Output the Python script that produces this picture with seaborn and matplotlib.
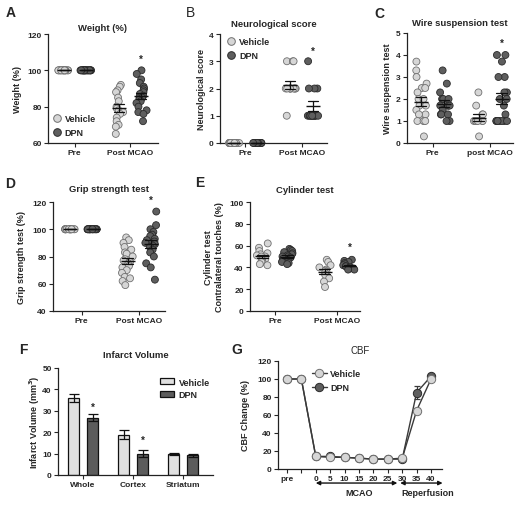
import numpy as np
import pandas as pd
import matplotlib
matplotlib.use('Agg')
import matplotlib.pyplot as plt
import matplotlib.transforms as mtransforms
import seaborn as sns
from matplotlib.lines import Line2D
from matplotlib.patches import Patch

sns.set_style('ticks')
plt.rcParams['font.family'] = ['Liberation Sans', 'DejaVu Sans']
plt.rcParams['font.weight'] = 'bold'
plt.rcParams['axes.labelweight'] = 'bold'
plt.rcParams['axes.titleweight'] = 'bold'
plt.rcParams['axes.linewidth'] = 0.9
plt.rcParams['axes.edgecolor'] = '#222222'
plt.rcParams['xtick.major.size'] = 3
plt.rcParams['ytick.major.size'] = 3
plt.rcParams['xtick.major.width'] = 0.8
plt.rcParams['ytick.major.width'] = 0.8
plt.rcParams['xtick.major.pad'] = 1.5
plt.rcParams['ytick.major.pad'] = 1.5
plt.rcParams['xtick.labelsize'] = 6
plt.rcParams['ytick.labelsize'] = 6
plt.rcParams['axes.labelsize'] = 6.5
plt.rcParams['axes.titlesize'] = 6.8

# ---------------- data ----------------
groups = ['Vehicle', 'DPN']

times_A = ['Pre', 'Post MCAO']
weight_veh_pre = [100] * 16
weight_dpn_pre = [100] * 20
weight_veh_post = [92, 91, 89, 88, 85, 83, 80, 79, 78, 77, 76, 74, 72, 70, 69, 65]
weight_dpn_post = [100, 98, 95, 93, 91, 90, 89, 88, 87, 86, 85, 85, 84, 83, 82, 80, 78, 77, 76, 72]

times_B = ['Pre', 'Post MCAO']
neuro_veh_pre = [0] * 14
neuro_dpn_pre = [0] * 14
neuro_veh_post = [3, 3, 3, 2, 2, 2, 2, 2, 2, 2, 2, 2, 2, 1]
neuro_dpn_post = [3, 2, 2, 2, 1, 1, 1, 1, 1, 1, 1, 1, 1, 1]

times_C = ['Pre', 'post MCAO']
wire_veh_pre = [3.7, 3.3, 3.0, 2.7, 2.5, 2.5, 2.3, 2.0, 2.0, 1.7, 1.7, 1.5, 1.3, 1.3, 1.0, 1.0, 1.0, 1.0, 0.3]
wire_dpn_pre = [3.3, 2.7, 2.3, 2.0, 2.0, 2.0, 1.7, 1.7, 1.7, 1.7, 1.5, 1.3, 1.3, 1.3, 1.0, 1.0]
wire_veh_post = [2.3, 1.7, 1.3, 1.3, 1.0, 1.0, 1.0, 1.0, 1.0, 1.0, 1.0, 0.3]
wire_dpn_post = [4.0, 4.0, 3.7, 3.0, 3.0, 2.3, 2.3, 2.0, 2.0, 1.7, 1.3, 1.0, 1.0, 1.0, 1.0, 1.0, 1.0, 1.0]

times_D = ['Pre', 'Post MCAO']
grip_veh_pre = [100] * 18
grip_dpn_pre = [100] * 18
grip_veh_post = [94, 92, 90, 87, 85, 83, 82, 80, 78, 77, 76, 75, 73, 72, 70, 68, 65, 64, 62, 59]
grip_dpn_post = [113, 103, 100, 98, 96, 95, 93, 92, 91, 90, 89, 88, 87, 85, 83, 80, 75, 72, 63]

times_E = ['Pre', 'Post MCAO']
cyl_veh_pre = [62, 58, 55, 53, 52, 51, 50, 50, 48, 47, 45, 45, 43, 42]
cyl_dpn_pre = [57, 56, 55, 54, 53, 52, 51, 50, 50, 49, 48, 47, 46, 45, 44, 43]
cyl_veh_post = [47, 45, 42, 40, 38, 37, 36, 35, 33, 30, 27, 22]
cyl_dpn_post = [47, 46, 45, 44, 43, 42, 41, 41, 40, 40, 39, 39, 38, 38]

regions_F = ['Whole', 'Cortex', 'Striatum']
infarct_veh = [36.0, 18.8, 10.0]
infarct_veh_sem = [1.8, 2.0, 0.5]
infarct_dpn = [26.8, 10.0, 9.2]
infarct_dpn_sem = [1.6, 1.8, 0.8]

cbf_times = [-10, -5, 0, 5, 10, 15, 20, 25, 30, 35, 40]
cbf_ticklabels = ['pre', '', '0', '5', '10', '15', '20', '25', '30', '35', '40']
cbf_veh = [100, 100, 14, 13, 13, 12, 11, 11, 12, 65, 100]
cbf_veh_sem = [0.5, 0.5, 1, 1, 1, 1, 1, 1, 1, 3, 2]
cbf_dpn = [100, 100, 14, 14, 13, 12, 11, 11, 11, 85, 103]
cbf_dpn_sem = [0.5, 0.5, 1, 1, 1, 1, 1, 1, 1, 7, 3]

# ---------------- style ----------------
VEH_FILL = '#d6d6d6'
VEH_EDGE = '#707070'
DPN_FILL = '#5e5e5e'
DPN_EDGE = '#2a2a2a'
pal = {'Vehicle': VEH_FILL, 'DPN': DPN_FILL}

W, H = 528, 510
fig = plt.figure(figsize=(W / 100, H / 100), dpi=100)
np.random.seed(3)


def add_ax(l, r, t, b):
    ax = fig.add_axes([l / W, 1 - b / H, (r - l) / W, (b - t) / H])
    sns.despine(ax=ax)
    return ax


def set_ylabel_px(ax, text, l, r, xpx, **kw):
    ax.set_ylabel(text, **kw)
    ax.yaxis.set_label_coords((xpx - l) / (r - l), 0.5)
    ax.yaxis.label.set_verticalalignment('center')


def dot_panel(ax, times, vp, dp, vq, dq):
    rows = []
    for t, v, d in ((times[0], vp, dp), (times[1], vq, dq)):
        rows += [(t, 'Vehicle', x) for x in v]
        rows += [(t, 'DPN', x) for x in d]
    df = pd.DataFrame(rows, columns=['time', 'group', 'value'])
    sns.stripplot(data=df, x='time', y='value', hue='group', order=times,
                  hue_order=groups, dodge=True, jitter=0.2, palette=pal,
                  size=5.0, linewidth=0.6, edgecolor=DPN_EDGE, legend=False,
                  ax=ax)
    for c in ax.collections:
        c.set_clip_on(False)
        fc = c.get_facecolor()
        if len(fc) and fc[0][0] > 0.6:
            c.set_edgecolor(VEH_EDGE)
    sns.pointplot(data=df, x='time', y='value', hue='group', order=times,
                  hue_order=groups, dodge=0.4, errorbar='se',
                  palette={'Vehicle': '#111111', 'DPN': '#111111'},
                  marker='_', markersize=10, markeredgewidth=1.0,
                  linestyle='none', capsize=0.18, err_kws={'linewidth': 0.9},
                  legend=False, ax=ax)
    for ln in ax.lines:
        ln.set_clip_on(False)
        ln.set_zorder(5)
    ax.set_xlabel('')


def dot_legend(ax, **kw):
    handles = [Line2D([], [], marker='o', ls='none', markerfacecolor=VEH_FILL,
                      markeredgecolor=VEH_EDGE, markersize=5.5, mew=0.7),
               Line2D([], [], marker='o', ls='none', markerfacecolor=DPN_FILL,
                      markeredgecolor=DPN_EDGE, markersize=5.5, mew=0.7)]
    ax.legend(handles, groups, frameon=False, fontsize=6.5, handletextpad=0.4,
              labelspacing=0.55, handlelength=1.0, borderpad=0.2, **kw)


def star(ax, x, y, size=7):
    ax.text(x, y, '*', ha='center', va='center', fontsize=size,
            fontweight='bold', clip_on=False, zorder=6)


def letter(xpx, ypx, s, bold=True):
    fig.text(xpx / W, 1 - ypx / H, s, fontsize=10,
             fontweight='bold' if bold else 'normal', ha='left', va='top')


# ---------------- A ----------------
l, r, t, b = 48, 158, 35, 144
axA = add_ax(l, r, t, b)
dot_panel(axA, times_A, weight_veh_pre, weight_dpn_pre, weight_veh_post, weight_dpn_post)
axA.set_ylim(60, 120)
axA.set_yticks([60, 80, 100, 120])
axA.set_xlim(-0.48, 1.5)
axA.set_title('Weight (%)', pad=3)
set_ylabel_px(axA, 'Weight (%)', l, r, 18)
star(axA, 1.2, 106.5)
dot_legend(axA, loc='lower left', bbox_to_anchor=(-0.02, 0.0))

# ---------------- B ----------------
l, r, t, b = 220, 327, 35, 144
axB = add_ax(l, r, t, b)
dot_panel(axB, times_B, neuro_veh_pre, neuro_dpn_pre, neuro_veh_post, neuro_dpn_post)
axB.set_ylim(0, 4)
axB.set_yticks([0, 1, 2, 3, 4])
axB.set_xlim(-0.45, 1.45)
axB.set_title('Neurological score', pad=6)
set_ylabel_px(axB, 'Neurological score', l, r, 202)
star(axB, 1.2, 3.4)
dot_legend(axB, loc='upper left', bbox_to_anchor=(0.0, 1.03))

# ---------------- C ----------------
l, r, t, b = 407, 513, 34, 144
axC = add_ax(l, r, t, b)
dot_panel(axC, times_C, wire_veh_pre, wire_dpn_pre, wire_veh_post, wire_dpn_post)
axC.set_ylim(0, 5)
axC.set_yticks([0, 1, 2, 3, 4, 5])
axC.set_xlim(-0.45, 1.4)
axC.set_title('Wire suspension test', pad=6)
set_ylabel_px(axC, 'Wire suspension test', l, r, 387)
star(axC, 1.2, 4.55)

# ---------------- D ----------------
l, r, t, b = 53, 165, 203, 312
axD = add_ax(l, r, t, b)
dot_panel(axD, times_D, grip_veh_pre, grip_dpn_pre, grip_veh_post, grip_dpn_post)
axD.set_ylim(40, 120)
axD.set_yticks([40, 60, 80, 100, 120])
axD.set_xlim(-0.5, 1.45)
axD.set_title('Grip strength test', pad=8)
set_ylabel_px(axD, 'Grip strength test (%)', l, r, 22)
star(axD, 1.2, 121.5)

# ---------------- E ----------------
l, r, t, b = 250, 360, 203, 312
axE = add_ax(l, r, t, b)
dot_panel(axE, times_E, cyl_veh_pre, cyl_dpn_pre, cyl_veh_post, cyl_dpn_post)
axE.set_ylim(0, 100)
axE.set_yticks([0, 20, 40, 60, 80, 100])
axE.set_xlim(-0.4, 1.37)
axE.set_title('Cylinder test', pad=7)
set_ylabel_px(axE, 'Cylinder test\nContralateral touches (%)', l, r, 214,
              linespacing=1.15)
star(axE, 1.2, 59)

# ---------------- F ----------------
l, r, t, b = 58, 213, 369, 476
axF = add_ax(l, r, t, b)
rows = [(reg, 'Vehicle', v) for reg, v in zip(regions_F, infarct_veh)] + \
       [(reg, 'DPN', v) for reg, v in zip(regions_F, infarct_dpn)]
dfF = pd.DataFrame(rows, columns=['region', 'group', 'value'])
sns.barplot(data=dfF, x='region', y='value', hue='group', order=regions_F,
            hue_order=groups, palette={'Vehicle': '#e0e0e0', 'DPN': '#5c5c5c'},
            width=0.76, gap=0.37, edgecolor='#111111', linewidth=0.9,
            errorbar=None, legend=False, ax=axF)
for cont, sems in zip(axF.containers, [infarct_veh_sem, infarct_dpn_sem]):
    for bar, s in zip(cont, sems):
        axF.errorbar(bar.get_x() + bar.get_width() / 2, bar.get_height(),
                     yerr=s, fmt='none', ecolor='#111111', elinewidth=0.9,
                     capsize=3.5, capthick=0.9, zorder=4)
axF.set_ylim(0, 50)
axF.set_yticks([0, 10, 20, 30, 40, 50])
axF.set_xlim(-0.5, 2.6)
axF.set_xlabel('')
axF.set_title('Infarct Volume', pad=8)
set_ylabel_px(axF, 'Infarct Volume (mm$^3$)', l, r, 35)
star(axF, 0.19, 32.0)
star(axF, 1.19, 16.5)
fh = [Patch(facecolor='#e0e0e0', edgecolor='#111111', lw=0.9),
      Patch(facecolor='#5c5c5c', edgecolor='#111111', lw=0.9)]
axF.legend(fh, groups, frameon=False, fontsize=6.5, loc='upper right',
           bbox_to_anchor=(1.02, 0.97), handlelength=1.6, handleheight=0.6,
           handletextpad=0.5, labelspacing=0.4, borderpad=0.2)

# ---------------- G ----------------
l, r, t, b = 278, 442, 362, 470
axG = add_ax(l, r, t, b)
LINE_C = '#3a3a3a'
sns.lineplot(x=cbf_times, y=cbf_dpn, color=LINE_C, marker='o', markersize=6,
             markerfacecolor=DPN_FILL, markeredgecolor=DPN_EDGE,
             markeredgewidth=0.7, linewidth=1.0, ax=axG, zorder=3)
axG.errorbar(cbf_times, cbf_dpn, yerr=cbf_dpn_sem, fmt='none', ecolor=LINE_C,
             elinewidth=0.9, capsize=2.5, capthick=0.9, zorder=2)
sns.lineplot(x=cbf_times, y=cbf_veh, color=LINE_C, marker='o', markersize=6,
             markerfacecolor=VEH_FILL, markeredgecolor=VEH_EDGE,
             markeredgewidth=0.7, linewidth=1.0, ax=axG, zorder=4)
axG.errorbar(cbf_times, cbf_veh, yerr=cbf_veh_sem, fmt='none', ecolor=LINE_C,
             elinewidth=0.9, capsize=2.5, capthick=0.9, zorder=2)
for ln in axG.lines:
    ln.set_clip_on(False)
axG.set_ylim(0, 120)
axG.set_yticks([0, 20, 40, 60, 80, 100, 120])
axG.set_xlim(-13.1, 43.8)
axG.set_xticks(cbf_times)
axG.set_xticklabels(cbf_ticklabels)
axG.set_title('CBF', pad=6, fontweight='normal', fontsize=7)
set_ylabel_px(axG, 'CBF Change (%)', l, r, 245)
gh = [Line2D([], [], color=LINE_C, lw=1.0, marker='o', markersize=6,
             markerfacecolor=VEH_FILL, markeredgecolor=VEH_EDGE, mew=0.7),
      Line2D([], [], color=LINE_C, lw=1.0, marker='o', markersize=6,
             markerfacecolor=DPN_FILL, markeredgecolor=DPN_EDGE, mew=0.7)]
axG.legend(gh, groups, frameon=False, fontsize=6.5, loc='upper left',
           bbox_to_anchor=(0.17, 0.98), handlelength=1.6, handletextpad=0.4,
           labelspacing=0.55, borderpad=0.2)
trG = mtransforms.blended_transform_factory(axG.transData, axG.transAxes)
arrow_kw = dict(arrowstyle='<|-|>', color='#111111', lw=1.0,
                mutation_scale=6, shrinkA=0, shrinkB=0)
axG.annotate('', xy=(28.3, -0.13), xytext=(0.0, -0.13), xycoords=trG,
             textcoords=trG, arrowprops=arrow_kw, annotation_clip=False)
axG.annotate('', xy=(44.0, -0.13), xytext=(29.3, -0.13), xycoords=trG,
             textcoords=trG, arrowprops=arrow_kw, annotation_clip=False)
axG.text(15.0, -0.215, 'MCAO', transform=trG, ha='center', va='center',
         fontsize=6.5, fontweight='bold')
axG.text(38.8, -0.215, 'Reperfusion', transform=trG, ha='center',
         va='center', fontsize=6.5, fontweight='bold')

# ---------------- panel letters ----------------
letter(6, 6, 'A')
letter(186, 6, 'B', bold=False)
letter(374, 7, 'C')
letter(5, 177, 'D')
letter(195, 176, 'E')
letter(19, 343, 'F')
letter(231, 343, 'G')

fig.savefig('out.png', dpi=100, facecolor='white')
